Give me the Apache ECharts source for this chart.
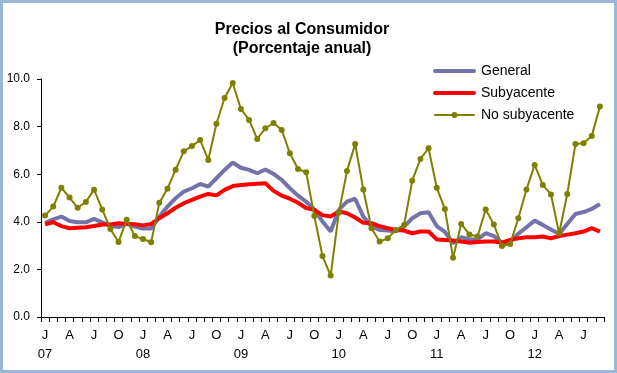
<!DOCTYPE html>
<html>
<head>
<meta charset="utf-8">
<script src="https://cdn.jsdelivr.net/npm/echarts@6/dist/echarts.min.js"></script>
<style>
html,body{margin:0;padding:0;background:#fff;}
#c{width:617px;height:373px;}
</style>
</head>
<body>
<div id="c"></div>
<script>
var years = ['07','08','09','10','11','12'];
var monthLetters = ['J','F','M','A','M','J','J','A','S','O','N','D'];
var tickMonths = {0:'J',3:'A',6:'J',9:'O'};
var seriesNames = ['General','Subyacente','No subyacente'];

var general = [3.96,4.10,4.22,4.03,3.98,3.98,4.12,3.98,3.82,3.78,3.91,3.80,
  3.72,3.72,4.21,4.64,4.99,5.27,5.41,5.59,5.48,5.83,6.18,6.49,
  6.27,6.18,6.04,6.20,6.01,5.76,5.41,5.10,4.85,4.52,4.01,3.59,
  4.50,4.85,4.97,4.22,3.80,3.66,3.63,3.60,3.80,4.15,4.36,4.40,
  3.82,3.58,3.10,3.35,3.26,3.26,3.52,3.40,3.12,3.16,3.50,3.77,
  4.05,3.87,3.68,3.49,3.91,4.33,4.41,4.54,4.75];
var subyacente = [3.89,3.98,3.82,3.73,3.75,3.77,3.82,3.89,3.89,3.94,3.92,3.90,
  3.85,3.91,4.15,4.36,4.59,4.78,4.92,5.06,5.17,5.11,5.34,5.50,
  5.55,5.58,5.60,5.62,5.30,5.10,4.97,4.80,4.58,4.50,4.28,4.22,
  4.43,4.36,4.18,3.96,3.94,3.82,3.73,3.66,3.63,3.52,3.59,3.59,
  3.26,3.24,3.21,3.17,3.12,3.15,3.17,3.17,3.12,3.24,3.31,3.35,
  3.35,3.38,3.31,3.40,3.46,3.52,3.59,3.73,3.59];
var noSubyacente = [4.26,4.64,5.43,5.02,4.59,4.83,5.35,4.52,3.70,3.15,4.09,3.40,
  3.28,3.14,4.80,5.39,6.19,6.96,7.18,7.44,6.60,8.12,9.20,9.83,
  8.74,8.28,7.48,7.93,8.15,7.86,6.88,6.22,6.08,4.24,2.56,1.74,
  4.38,6.13,7.27,5.36,3.73,3.17,3.31,3.66,3.87,5.73,6.64,7.09,
  5.43,4.54,2.49,3.91,3.47,3.38,4.52,3.89,2.98,3.07,4.15,5.36,
  6.39,5.55,5.15,3.52,5.17,7.27,7.30,7.61,8.84];

var categories = [];
for (var y = 0; y < years.length; y++) {
  for (var m = 0; m < 12; m++) {
    if (categories.length < general.length) categories.push(monthLetters[m] + ' ' + years[y]);
  }
}

var colGeneral = '#7373aa', colSub = '#ff0000', colNS = '#808000';
var font = 'Liberation Sans, Arial, sans-serif';

function legendItem(name, color, yc, thick, dot) {
  var els = [
    {type: 'line', shape: {x1: 435, y1: yc, x2: 474, y2: yc},
      style: {stroke: color, lineWidth: thick, lineCap: 'round'}, silent: true},
    {type: 'text', x: 481, y: yc, style: {text: name, fill: '#000', font: '14px ' + font,
      textAlign: 'left', textVerticalAlign: 'middle'}, silent: true}
  ];
  if (dot) els.push({type: 'circle', shape: {cx: 454.5, cy: yc, r: 3}, style: {fill: color}, silent: true});
  return els;
}

var chart = echarts.init(document.getElementById('c'), null, {renderer:'canvas'});
chart.setOption({
  animation: false,
  backgroundColor: '#ffffff',
  title: {
    text: 'Precios al Consumidor\n(Porcentaje anual)',
    left: 297, top: 15, textAlign: 'center',
    textStyle: {fontSize: 16, fontWeight: 'bold', color: '#000', fontFamily: font, lineHeight: 19}
  },
  legend: {show: false, data: seriesNames},
  grid: {left: 41, right: 13, top: 79, bottom: 56, containLabel: false},
  xAxis: {
    type: 'category', data: categories, boundaryGap: true,
    axisLine: {lineStyle: {color: '#000', width: 1}},
    axisTick: {show: true, interval: 0, length: 5, lineStyle: {color: '#000'}},
    axisLabel: {
      interval: 0, margin: 9, color: '#000', fontSize: 13, fontFamily: font, lineHeight: 19,
      formatter: function (v, i) {
        var mi = i % 12;
        if (tickMonths[mi] === undefined) return '';
        var s = tickMonths[mi];
        if (mi === 0) s += '\n' + years[Math.floor(i / 12)];
        return s;
      }
    },
    splitLine: {show: false}
  },
  yAxis: {
    type: 'value', min: 0, max: 10, interval: 2,
    axisLine: {show: true, lineStyle: {color: '#000', width: 1}},
    axisTick: {show: true, length: 4, lineStyle: {color: '#000'}},
    axisLabel: {color: '#000', fontSize: 12, fontFamily: font, margin: 11,
      formatter: function (v) { return v.toFixed(1); }},
    splitLine: {show: false}
  },
  series: [
    {name: seriesNames[0], type: 'line', data: general, symbol: 'none',
      lineStyle: {color: colGeneral, width: 4}, itemStyle: {color: colGeneral}},
    {name: seriesNames[1], type: 'line', data: subyacente, symbol: 'none',
      lineStyle: {color: colSub, width: 4}, itemStyle: {color: colSub}},
    {name: seriesNames[2], type: 'line', data: noSubyacente, symbol: 'circle', symbolSize: 6,
      lineStyle: {color: colNS, width: 2}, itemStyle: {color: colNS}}
  ],
  graphic: [].concat(
    legendItem(seriesNames[0], colGeneral, 71, 4, false),
    legendItem(seriesNames[1], colSub, 93, 4, false),
    legendItem(seriesNames[2], colNS, 115, 2, true),
    [{type: 'rect', shape: {x: 1.5, y: 1.5, width: 614, height: 370},
      style: {fill: null, stroke: '#9ab6d8', lineWidth: 3}, silent: true}]
  )
});
</script>
</body>
</html>
